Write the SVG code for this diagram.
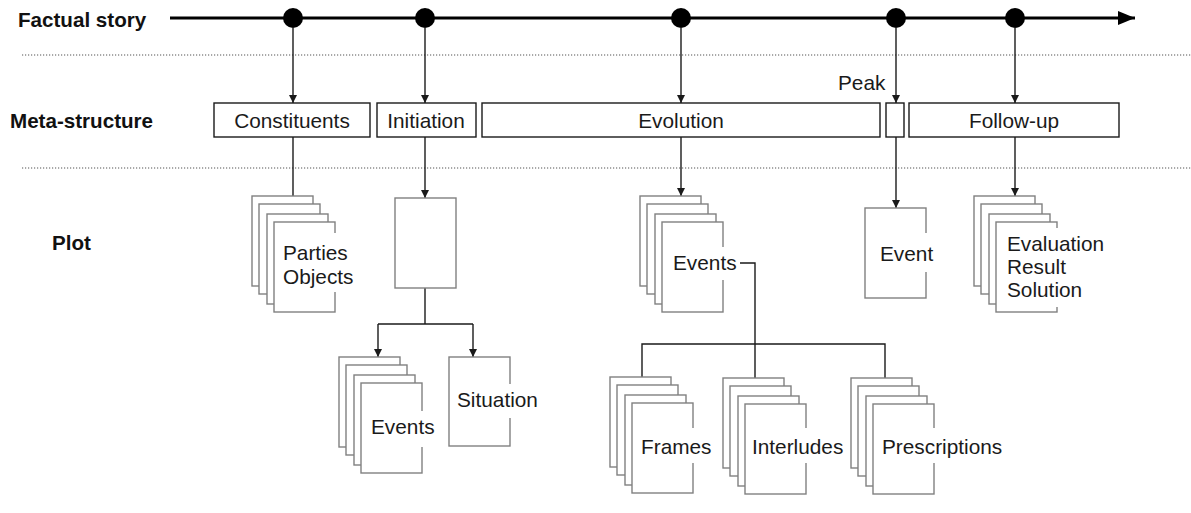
<svg xmlns="http://www.w3.org/2000/svg" width="1191" height="513" viewBox="0 0 1191 513">
<style>
text{font-family:"Liberation Sans",Arial,sans-serif;font-size:20.8px;fill:#1a1a1a}
.lab{font-weight:bold;font-size:20.6px;fill:#111}
.mbox{fill:#fff;stroke:#1a1a1a;stroke-width:1.4}
.pg{fill:#fff;stroke:#808080;stroke-width:1.4}
.wb{fill:#fff;stroke:none}
.ln{fill:none;stroke:#1a1a1a;stroke-width:1.4}
.dot{fill:none;stroke:#555;stroke-width:1.2;stroke-dasharray:1.2 1.8}
</style>
<defs>
<marker id="ah" markerUnits="userSpaceOnUse" markerWidth="10" markerHeight="10" refX="8" refY="4" orient="auto"><path d="M0,0 L8,4 L0,8 Z" fill="#1a1a1a"/></marker>
<marker id="big" markerUnits="userSpaceOnUse" markerWidth="20" markerHeight="16" refX="17" refY="7" orient="auto"><path d="M0,0 L17,7 L0,14 Z" fill="#000"/></marker>
<g id="stack"><rect class="pg" x="0" y="0" width="61" height="90"/><rect class="pg" x="7" y="8" width="61" height="90"/><rect class="pg" x="15" y="18" width="61" height="90"/><rect class="pg" x="22" y="26" width="61" height="90"/></g>
</defs>
<rect width="1191" height="513" fill="#fff"/>
<g id="labels">
<text class="lab" x="18" y="27">Factual story</text>
<text class="lab" x="10" y="128">Meta-structure</text>
<text class="lab" x="52" y="250">Plot</text>
<text x="838" y="90">Peak</text>
</g>
<g id="separators">
<line class="dot" x1="22" y1="55" x2="1191" y2="55"/>
<line class="dot" x1="22" y1="168" x2="1191" y2="168"/>
</g>
<g id="timeline">
<line x1="170" y1="18" x2="1135" y2="18" stroke="#000" stroke-width="2.8" marker-end="url(#big)"/>
<circle cx="293" cy="18" r="10"/><circle cx="425" cy="18" r="10"/><circle cx="681" cy="18" r="10"/><circle cx="896" cy="18" r="10"/><circle cx="1015" cy="18" r="10"/>
</g>
<g id="connectors">
<line class="ln" x1="293" y1="28" x2="293" y2="103" marker-end="url(#ah)"/>
<line class="ln" x1="425" y1="28" x2="425" y2="103" marker-end="url(#ah)"/>
<line class="ln" x1="681" y1="28" x2="681" y2="103" marker-end="url(#ah)"/>
<line class="ln" x1="896" y1="28" x2="896" y2="103" marker-end="url(#ah)"/>
<line class="ln" x1="1015" y1="28" x2="1015" y2="103" marker-end="url(#ah)"/>
<line class="ln" x1="293" y1="137" x2="293" y2="196"/>
<line class="ln" x1="425" y1="137" x2="425" y2="198" marker-end="url(#ah)"/>
<line class="ln" x1="681" y1="137" x2="681" y2="196" marker-end="url(#ah)"/>
<line class="ln" x1="896" y1="137" x2="896" y2="208" marker-end="url(#ah)"/>
<line class="ln" x1="1015" y1="137" x2="1015" y2="196" marker-end="url(#ah)"/>
<path class="ln" d="M425,288 V324"/>
<path class="ln" d="M378,324 H473"/>
<line class="ln" x1="378" y1="324" x2="378" y2="357" marker-end="url(#ah)"/>
<line class="ln" x1="473" y1="324" x2="473" y2="357" marker-end="url(#ah)"/>
<path class="ln" d="M740,263 H755 V378"/>
<path class="ln" d="M642,377 V344 H885 V378"/>
</g>
<g id="meta">
<g id="constituents"><rect class="mbox" x="214" y="103" width="156" height="34"/><text x="292" y="128" text-anchor="middle">Constituents</text></g>
<g id="initiation"><rect class="mbox" x="377" y="103" width="99" height="34"/><text x="426" y="128" text-anchor="middle">Initiation</text></g>
<g id="evolution"><rect class="mbox" x="482" y="103" width="398" height="34"/><text x="681" y="128" text-anchor="middle">Evolution</text></g>
<g id="peak"><rect class="mbox" x="886" y="103" width="18" height="34"/></g>
<g id="followup"><rect class="mbox" x="909" y="103" width="210" height="34"/><text x="1014" y="128" text-anchor="middle">Follow-up</text></g>
</g>
<g id="plot-constituents"><use href="#stack" x="252" y="196"/><rect class="wb" x="330" y="233" width="10" height="59"/><text x="283" y="260">Parties</text><text x="283" y="284">Objects</text></g>
<g id="plot-initiation"><rect class="pg" x="395" y="198" width="61" height="90"/></g>
<g id="plot-init-events"><use href="#stack" x="339" y="357"/><rect class="wb" x="417" y="411" width="10" height="36"/><text x="371" y="434">Events</text></g>
<g id="plot-situation"><rect class="pg" x="449" y="357" width="61" height="89"/><rect class="wb" x="505" y="384" width="10" height="34"/><text x="457" y="407">Situation</text></g>
<g id="plot-evo-events"><use href="#stack" x="640" y="196"/><rect class="wb" x="717" y="247" width="10" height="33"/><text x="673" y="270">Events</text></g>
<g id="plot-event"><rect class="pg" x="865" y="208" width="61" height="90"/><rect class="wb" x="921" y="233" width="10" height="39"/><text x="880" y="261">Event</text></g>
<g id="plot-followup"><use href="#stack" x="974" y="196"/><rect class="wb" x="1052" y="228" width="10" height="79"/><text x="1007" y="251">Evaluation</text><text x="1007" y="274">Result</text><text x="1007" y="297">Solution</text></g>
<g id="plot-frames"><use href="#stack" x="610" y="377"/><rect class="wb" x="688" y="428" width="10" height="35"/><text x="641" y="454">Frames</text></g>
<g id="plot-interludes"><use href="#stack" x="723" y="378"/><rect class="wb" x="801" y="428" width="10" height="35"/><text x="752" y="454">Interludes</text></g>
<g id="plot-prescriptions"><use href="#stack" x="851" y="378"/><rect class="wb" x="929" y="428" width="10" height="35"/><text x="882" y="454">Prescriptions</text></g>
</svg>
